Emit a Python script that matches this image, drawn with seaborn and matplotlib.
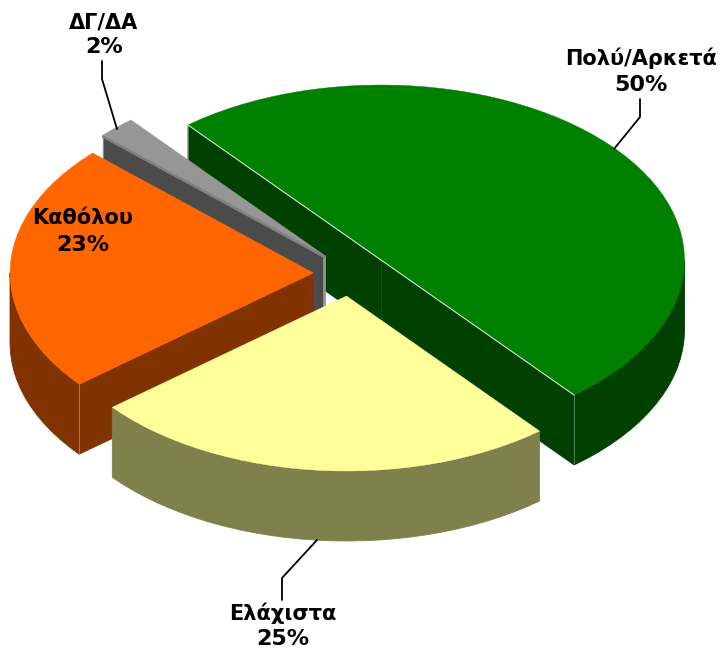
import numpy as np
import matplotlib
matplotlib.use("Agg")
import matplotlib.pyplot as plt
import seaborn as sns

# --- data ---
categories = ["Πολύ/Αρκετά", "Ελάχιστα", "Καθόλου", "ΔΓ/ΔΑ"]
values = [50, 25, 23, 2]
labels = ["50%", "25%", "23%", "2%"]

# --- style ---
top_colors = ["#008000", "#FFFF99", "#FF6600", "#969696"]
side_colors = ["#004000", "#80804D", "#803300", "#4B4B4B"]
apexes = [(381, 260), (346.5, 296), (313.5, 273), (324, 255)]
name_pos = [(641, 58), (283, 613), (83, 218), (104, 22)]
pct_pos = [(641, 85), (283, 639), (83, 245), (104, 47)]
leaders = [
    ([640, 640, 614], [99, 117, 149]),
    ([317, 282, 282], [540, 578, 600]),
    None,
    ([102, 102, 117], [61, 79, 129]),
]
RX, RY, DEPTH = 303.5, 175, 70
START = 129.5
draw_order = [0, 3, 2, 1]

sns.set_style("white")
plt.rcParams["font.family"] = ["DejaVu Sans"]

fig = plt.figure(figsize=(7.2, 6.49), dpi=100)
ax = fig.add_axes([0, 0, 1, 1])
ax.set_xlim(0, 720)
ax.set_ylim(649, 0)
ax.axis("off")

shares = np.array(values, dtype=float) / np.sum(values)
ends = START - np.cumsum(shares) * 360
starts = np.r_[START, ends[:-1]]


def rim(apex, t):
    r = np.radians(t)
    return apex[0] + RX * np.cos(r), apex[1] - RY * np.sin(r)


def arc(apex, a, b, step=3.0):
    n = max(2, int(abs(b - a) / step) + 1)
    t = np.linspace(a, b, n)
    return rim(apex, t)


for i in draw_order:
    a, b = starts[i], ends[i]   # clockwise: a > b
    apex = apexes[i]
    top, side = top_colors[i], side_colors[i]
    z = 1 + draw_order.index(i)

    # outer rim: the part of the arc that faces the viewer
    for k in (0, -1):
        lo = max(b, -180 + 360 * k)
        hi = min(a, 0 + 360 * k)
        if hi > lo:
            x, y = arc(apex, hi, lo)
            ax.fill(np.r_[x, x[::-1]], np.r_[y, y[::-1] + DEPTH],
                    color=side, lw=0.6, zorder=z)

    # cut faces that look towards the viewer
    pa = rim(apex, a)
    pb = rim(apex, b)
    for p in (pa, pb):
        # face is visible if the slice interior lies above the cut line
        mid = rim(apex, (a + b) / 2)
        dx, dy = p[0] - apex[0], p[1] - apex[1]
        cross = dx * (mid[1] - apex[1]) - dy * (mid[0] - apex[0])
        above = (cross / dx if dx else 0) < 0
        if above:
            ax.fill([apex[0], p[0], p[0], apex[0]],
                    [apex[1], p[1], p[1] + DEPTH, apex[1] + DEPTH],
                    color=side, lw=0.4, zorder=z)
            ax.plot([p[0], p[0]], [p[1], p[1] + DEPTH], color="white",
                    lw=0.5, alpha=0.45, zorder=z)
            ax.plot([apex[0], p[0]], [apex[1], p[1]], color="white",
                    lw=0.8, alpha=0.8 if i == 0 else 0.0, zorder=z + 0.5)
    if i == 0:
        ax.plot([apex[0], apex[0]], [apex[1], apex[1] + DEPTH], color="white",
                lw=0.4, alpha=0.15, zorder=z)

    # top surface
    x, y = arc(apex, a, b)
    ax.fill(np.r_[apex[0], x], np.r_[apex[1], y], color=top, lw=0.3, zorder=z + 0.2)
    if i == 3:
        ax.plot([apex[0], apex[0]], [apex[1], apex[1] + DEPTH], color="#969696",
                lw=2, zorder=z + 0.1, solid_capstyle="butt")
        ax.plot([apex[0], pa[0]], [apex[1] + 1.5, pa[1] + 1.5], color="#808080",
                lw=2, zorder=z + 0.1)

for i, name in enumerate(categories):
    if leaders[i] is not None:
        sns.lineplot(x=leaders[i][0], y=leaders[i][1], ax=ax, color="black",
                     lw=1.3, sort=False, estimator=None, legend=False, zorder=10)
    ax.text(name_pos[i][0], name_pos[i][1], name, ha="center", va="center",
            fontsize=15, fontweight="bold", color="black", zorder=11)
    ax.text(pct_pos[i][0], pct_pos[i][1], labels[i], ha="center", va="center",
            fontsize=16, fontweight="bold", color="black", zorder=11)

fig.savefig("out.png", dpi=100, facecolor="white")
